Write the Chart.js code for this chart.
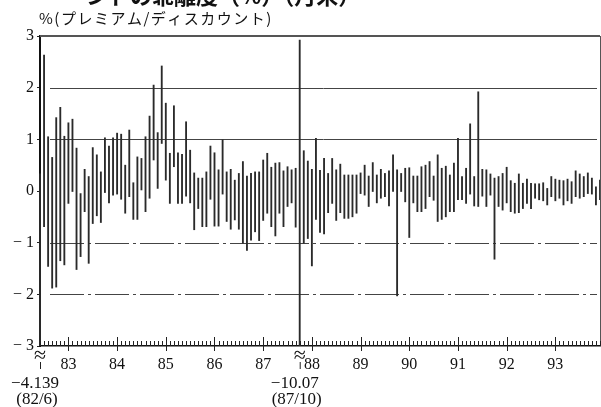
<!DOCTYPE html>
<html>
<head>
<meta charset="utf-8">
<script src="https://cdn.jsdelivr.net/npm/chart.js@4.4.0/dist/chart.umd.min.js"></script>
<style>
  html, body { margin: 0; padding: 0; background: #fff; }
  #wrap { position: relative; width: 601px; height: 407px; }
</style>
</head>
<body>
<div id="wrap"><canvas id="chart" width="601" height="407"></canvas></div>
<script>
// Monthly premium/discount range, 82/6 .. 93/12 (139 months)
const START_YEAR = 1982, START_MONTH = 6, N_MONTHS = 139;
const months = [];
for (let i = 0; i < N_MONTHS; i++) {
  const m = (START_MONTH - 1 + i) % 12 + 1;
  const y = START_YEAR + Math.floor((START_MONTH - 1 + i) / 12);
  months.push(String(y).slice(2) + "/" + m);
}

// monthly high (%)
const highs = [
  0.33, 2.63, 1.05, 0.65, 1.42, 1.62, 1.06, 1.32, 1.39, 0.83,
  -0.05, 0.42, 0.28, 0.84, 0.70, 0.37, 1.03, 0.87, 1.03, 1.12,
  1.10, 0.50, 1.18, 0.16, 0.66, 0.63, 1.05, 1.45, 2.05, 1.13,
  2.42, 1.70, 0.73, 1.65, 0.74, 0.71, 1.34, 0.79, 0.35, 0.25,
  0.25, 0.37, 0.87, 0.74, 0.41, 0.99, 0.37, 0.42, 0.21, 0.34,
  0.57, 0.29, 0.34, 0.37, 0.37, 0.60, 0.73, 0.46, 0.54, 0.55,
  0.39, 0.47, 0.41, 0.44, 2.92, 0.78, 0.58, 0.42, 1.02, 0.40,
  0.63, 0.34, 0.63, 0.41, 0.52, 0.31, 0.31, 0.31, 0.31, 0.35,
  0.50, 0.29, 0.55, 0.31, 0.42, 0.34, 0.39, 0.70, 0.41, 0.34,
  0.44, 0.45, 0.29, 0.29, 0.47, 0.50, 0.57, 0.29, 0.70, 0.44,
  0.48, 0.31, 0.54, 1.02, 0.28, 0.44, 1.30, 0.28, 1.92, 0.42,
  0.41, 0.33, 0.25, 0.28, 0.34, 0.46, 0.20, 0.15, 0.33, 0.15,
  0.23, 0.15, 0.14, 0.14, 0.16, 0.05, 0.28, 0.23, 0.21, 0.20,
  0.23, 0.18, 0.39, 0.33, 0.28, 0.35, 0.25, 0.08, 0.21
];

// monthly low (%)
const lows = [
  -4.139, -0.69, -1.46, -1.88, -1.86, -1.35, -1.43, -0.24, -0.01, -1.52,
  -1.27, -0.40, -1.40, -0.63, -0.48, -0.61, -0.03, -0.23, -0.08, -0.06,
  -0.16, -0.43, -0.11, -0.55, -0.55, 0.02, -0.40, -0.14, 0.60, 0.05,
  0.92, 0.21, -0.24, 0.47, -0.24, -0.24, -0.10, -0.23, -0.75, -0.34,
  -0.69, -0.69, -0.16, -0.68, -0.68, -0.06, -0.59, -0.74, -0.56, -0.74,
  -1.01, -1.15, -0.95, -0.79, -0.96, -0.57, -0.43, -0.69, -0.87, -0.43,
  -0.69, -0.30, -0.23, -0.70, -10.07, -1.01, -0.92, -1.45, -0.55, -0.80,
  -0.83, -0.42, -0.24, -0.57, -0.42, -0.53, -0.53, -0.50, -0.43, -0.05,
  -0.08, -0.30, -0.01, -0.23, -0.14, -0.11, -0.29, -0.01, -2.03, -0.01,
  -0.21, -0.90, -0.23, -0.40, -0.40, -0.34, -0.11, -0.18, -0.59, -0.55,
  -0.50, -0.40, -0.40, -0.17, -0.17, -0.24, -0.06, -0.29, -0.30, -0.10,
  -0.30, -0.08, -1.32, -0.30, -0.37, -0.23, -0.40, -0.43, -0.42, -0.34,
  -0.24, -0.34, -0.14, -0.17, -0.19, -0.27, -0.11, -0.19, -0.14, -0.27,
  -0.19, -0.24, -0.11, -0.14, -0.11, -0.05, -0.06, -0.27, -0.17
];

// off-scale lows written under the axis
const offScale = [
  { month: "82/6", value: "\u22124.139", date: "(82/6)" },
  { month: "87/10", value: "\u221210.07", date: "(87/10)" }
];

const yTicks = [-3, -2, -1, 0, 1, 2, 3];
const gridValues = [2, 1, -1, -2];

const SERIF = "'Liberation Serif', 'DejaVu Serif', serif";
const JP = "'Noto Sans CJK JP', sans-serif";

// horizontal reference lines, drawn under the bars
const gridPlugin = {
  id: "refLines",
  beforeDatasetsDraw(chart) {
    const { ctx, chartArea: a, scales: { y } } = chart;
    ctx.save();
    ctx.strokeStyle = "#444";
    ctx.lineWidth = 1;
    gridValues.forEach(v => {
      const py = Math.round(y.getPixelForValue(v)) + 0.5;
      ctx.setLineDash(v < 0 ? [34, 4, 3, 4] : []);
      ctx.beginPath();
      ctx.moveTo(a.left + 10, py);
      ctx.lineTo(a.right - 3, py);
      ctx.stroke();
    });
    ctx.restore();
  }
};

// frame, month ticks, break marks and texts
const decoPlugin = {
  id: "deco",
  afterDraw(chart) {
    const { ctx, chartArea: a, scales: { x } } = chart;
    ctx.save();
    // top and right frame
    ctx.strokeStyle = "#555";
    ctx.lineWidth = 2;
    ctx.beginPath();
    ctx.moveTo(a.left, a.top);
    ctx.lineTo(a.right, a.top);
    ctx.stroke();
    ctx.lineWidth = 1;
    ctx.beginPath();
    ctx.moveTo(a.right + 0.5, a.top);
    ctx.lineTo(a.right + 0.5, a.bottom);
    ctx.stroke();

    // month ticks pointing up from the bottom axis
    ctx.strokeStyle = "#222";
    ctx.lineWidth = 1;
    months.forEach((m, i) => {
      const px = Math.round(x.getPixelForValue(i)) + 0.5;
      const jan = m.endsWith("/1");
      ctx.beginPath();
      ctx.moveTo(px, a.bottom - (jan ? 9 : 5));
      ctx.lineTo(px, a.bottom + (jan ? 5 : 0));
      ctx.stroke();
    });

    // off-scale marks
    ctx.fillStyle = "#111";
    ctx.textAlign = "center";
    offScale.forEach(o => {
      const px = x.getPixelForValue(months.indexOf(o.month));
      ctx.font = "22px " + SERIF;
      ctx.textBaseline = "middle";
      ctx.fillText("\u2248", px, a.bottom + 10);
      ctx.beginPath();
      ctx.moveTo(px + 0.5, a.bottom + 16);
      ctx.lineTo(px + 0.5, a.bottom + 23);
      ctx.stroke();
      ctx.font = "17px " + SERIF;
      ctx.textBaseline = "alphabetic";
      ctx.fillText(o.value, px - 5, a.bottom + 42);
      ctx.fillText(o.date, px - 3, a.bottom + 58);
    });

    // axis unit label
    ctx.textAlign = "left";
    ctx.font = "15px " + JP;
    ctx.letterSpacing = "1.5px";
    ctx.fillText("%(プレミアム/ディスカウント)", 39, 24);
    ctx.letterSpacing = "0px";

    // page title cut off at the top edge
    ctx.font = "bold 22px " + JP;
    ctx.fillText("ンドの乖離度（%）（月末）", 86, 4);
    ctx.restore();
  }
};

new Chart(document.getElementById("chart"), {
  type: "bar",
  data: {
    labels: months,
    datasets: [{
      data: lows.map((lo, i) => [lo, highs[i]]),
      backgroundColor: "#2a2a2a",
      borderWidth: 0,
      barThickness: 1.2,
      clip: { left: 2, right: 2, top: 0, bottom: 0 }
    }]
  },
  options: {
    responsive: false,
    animation: false,
    events: [],
    layout: { padding: { left: 0, right: 1, top: 36, bottom: 0 } },
    plugins: { legend: { display: false }, tooltip: { enabled: false } },
    scales: {
      x: {
        type: "category",
        offset: false,
        grid: { display: false },
        border: { display: true, color: "#111", width: 1.5 },
        ticks: {
          autoSkip: false,
          maxRotation: 0,
          padding: 1,
          color: "#111",
          font: { family: SERIF, size: 16 },
          callback: (v, i) => months[i].endsWith("/1") ? months[i].split("/")[0] : ""
        },
        afterFit: s => { s.height = 61; s.paddingLeft = 0; s.paddingRight = 0; }
      },
      y: {
        min: -3,
        max: 3,
        afterBuildTicks: s => { s.ticks = yTicks.map(v => ({ value: v })); },
        grid: { drawOnChartArea: false, tickLength: 3, color: "#222" },
        border: { display: true, color: "#111", width: 2 },
        ticks: {
          padding: 3,
          color: "#111",
          font: { family: SERIF, size: 16 },
          callback: v => v < 0 ? "\u2212 " + Math.abs(v) : String(v)
        },
        afterFit: s => { s.width = 40; s.paddingTop = 0; s.paddingBottom = 0; }
      }
    }
  },
  plugins: [gridPlugin, decoPlugin]
});
</script>
</body>
</html>
